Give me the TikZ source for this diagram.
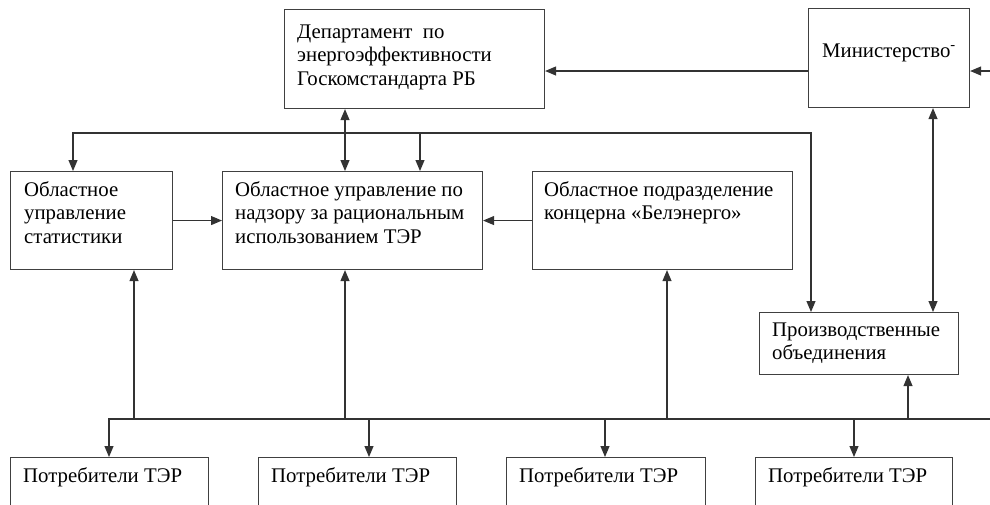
\documentclass[tikz,border=0pt]{standalone}
\usepackage{fontspec}
\setmainfont{Liberation Serif}
\newfontfamily\tnr{Liberation Serif}
\usetikzlibrary{arrows.meta}
\newcommand\tlines[1]{\begin{tabular}[t]{@{}l@{}}#1\end{tabular}}
\begin{document}
\begin{tikzpicture}[x=1pt,y=-1pt,
  box/.style={draw=black!75, line width=1.1pt, inner sep=0pt, anchor=north west},
  txt/.style={inner sep=0pt, anchor=base west, font=\tnr\fontsize{20.8}{23.8}\selectfont},
  ln/.style={draw=black!80, line width=1.1pt},
  arr/.style={ln, -{Triangle[length=11pt,width=9pt]}},
  arrb/.style={ln, {Triangle[length=11pt,width=9pt]}-{Triangle[length=11pt,width=9pt]}}]
\useasboundingbox (0,0) rectangle (990,504);
\begin{scope}
\clip (0,0) rectangle (990,504);
% boxes
\node[box, minimum width=260pt, minimum height=99pt] (dept) at (284,9) {};
\node[box, minimum width=161pt, minimum height=99pt] (min) at (808,8) {};
\node[box, minimum width=162pt, minimum height=98pt] (stat) at (10,171) {};
\node[box, minimum width=260pt, minimum height=98pt] (cen) at (222,171) {};
\node[box, minimum width=260pt, minimum height=98pt] (bel) at (532,171) {};
\node[box, minimum width=199pt, minimum height=62pt] (po) at (759,312) {};
\node[box, minimum width=198pt, minimum height=70pt] (c1) at (10,457) {};
\node[box, minimum width=198pt, minimum height=70pt] (c2) at (258,457) {};
\node[box, minimum width=199pt, minimum height=70pt] (c3) at (506,457) {};
\node[box, minimum width=197pt, minimum height=70pt] (c4) at (755,457) {};
% texts
\node[txt] (deptT) at ([xshift=13pt,yshift=-29pt]dept.north west) {\tlines{Департамент~~по\\энергоэффективности\\Госкомстандарта РБ}};
\node[txt] (minT) at ([xshift=14pt,yshift=-49pt]min.north west) {Министерство\textsuperscript{-}};
\node[txt] (statT) at ([xshift=14pt,yshift=-25pt]stat.north west) {\tlines{Областное\\управление\\статистики}};
\node[txt] (cenT) at ([xshift=13pt,yshift=-25pt]cen.north west) {\tlines{Областное управление по\\надзору за рациональным\\использованием ТЭР}};
\node[txt] (belT) at ([xshift=12pt,yshift=-25pt]bel.north west) {\tlines{Областное подразделение\\концерна «Белэнерго»}};
\node[txt] (poT) at ([xshift=13pt,yshift=-24pt]po.north west) {\tlines{Производственные\\объединения}};
\node[txt] (c1T) at ([xshift=13pt,yshift=-25pt]c1.north west) {Потребители ТЭР};
\node[txt] (c2T) at ([xshift=13pt,yshift=-25pt]c2.north west) {Потребители ТЭР};
\node[txt] (c3T) at ([xshift=13pt,yshift=-25pt]c3.north west) {Потребители ТЭР};
\node[txt] (c4T) at ([xshift=13pt,yshift=-25pt]c4.north west) {Потребители ТЭР};
% coordinates
\coordinate (r71) at (990,71);
\coordinate (x345) at (345,0);
\coordinate (x933) at (933,0);
\coordinate (t1) at (73,133);
\coordinate (t2) at (811,133);
\coordinate (t3) at (420,133);
\coordinate (bL) at (109,419);
\coordinate (bR) at (990,419);
\coordinate (u1) at (134,419);
\coordinate (u2) at (345,419);
\coordinate (u3) at (667,419);
\coordinate (u4) at (908,419);
\coordinate (d2) at (369,419);
\coordinate (d3) at (605,419);
\coordinate (d4) at (854,419);
% connectors
\draw[arr] (r71) -- (min.east |- r71);
\draw[arr] (min.west |- r71) -- (dept.east |- r71);
\draw[arrb] (dept.south -| x345) -- (cen.north -| x345);
\draw[arrb] (po.north -| t2) -- (t2) -- (t1) -- (stat.north -| t1);
\draw[arr] (t3) -- (cen.north -| t3);
\draw[arrb] (min.south -| x933) -- (po.north -| x933);
\draw[arr] (stat.east) -- (cen.west);
\draw[arr] (bel.west) -- (cen.east);
\draw[arr] (bR) -- (bL) -- (c1.north -| bL);
\draw[arr] (u1) -- (stat.south -| u1);
\draw[arr] (u2) -- (cen.south -| u2);
\draw[arr] (u3) -- (bel.south -| u3);
\draw[arr] (u4) -- (po.south -| u4);
\draw[arr] (d2) -- (c2.north -| d2);
\draw[arr] (d3) -- (c3.north -| d3);
\draw[arr] (d4) -- (c4.north -| d4);
\end{scope}
\end{tikzpicture}
\end{document}
